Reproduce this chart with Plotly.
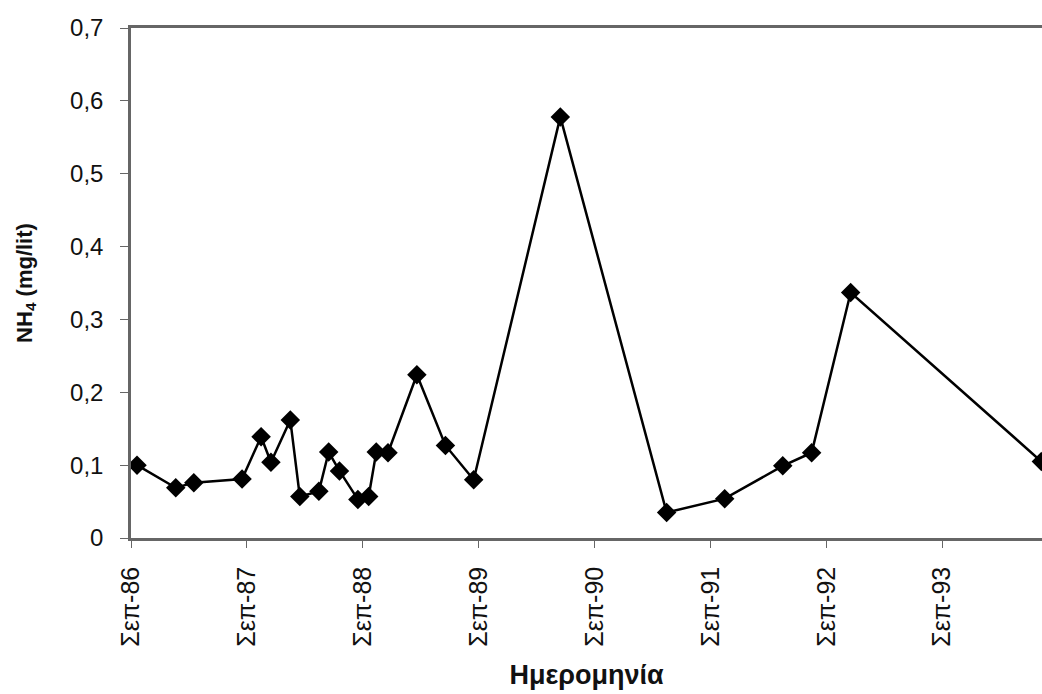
import plotly.graph_objects as go

dates = ["1986-09-20", "1987-01-20", "1987-03-18", "1987-08-17", "1987-10-16",
         "1987-11-16", "1988-01-16", "1988-02-15", "1988-04-15", "1988-05-16",
         "1988-06-19", "1988-08-16", "1988-09-19", "1988-10-13", "1988-11-19",
         "1989-02-18", "1989-05-19", "1989-08-16", "1990-05-16", "1991-04-16",
         "1991-10-16", "1992-04-16", "1992-07-16", "1992-11-16", "1994-07-10"]
nh4 = [0.100, 0.069, 0.076, 0.081, 0.139,
       0.104, 0.162, 0.057, 0.064, 0.118,
       0.092, 0.053, 0.057, 0.118, 0.117,
       0.224, 0.127, 0.080, 0.578, 0.035,
       0.054, 0.099, 0.117, 0.337, 0.105]

tick_vals = ["1986-09-01", "1987-09-01", "1988-09-01", "1989-09-01",
             "1990-09-01", "1991-09-01", "1992-09-01", "1993-09-01"]
tick_text = ["Σεπ-86", "Σεπ-87", "Σεπ-88", "Σεπ-89",
             "Σεπ-90", "Σεπ-91", "Σεπ-92", "Σεπ-93"]
y_ticks = [0, 0.1, 0.2, 0.3, 0.4, 0.5, 0.6, 0.7]
y_tick_text = ["0", "0,1", "0,2", "0,3", "0,4", "0,5", "0,6", "0,7"]

fig = go.Figure()
fig.add_trace(go.Scatter(
    x=dates, y=nh4, mode="lines+markers",
    line=dict(color="black", width=2.5),
    marker=dict(symbol="diamond", size=15, color="black"),
    cliponaxis=True, showlegend=False,
))

font_family = "Liberation Sans, Arial, sans-serif"
fig.update_layout(
    width=1042, height=694,
    margin=dict(l=131, r=0, t=28, b=156),
    paper_bgcolor="white", plot_bgcolor="white",
    separators=",.",
    font=dict(family=font_family, size=24, color="#111"),
    xaxis=dict(
        type="date",
        range=["1986-09-01", "1994-07-12"],
        tickmode="array", tickvals=tick_vals, ticktext=tick_text,
        tickangle=-90, ticks="outside", ticklen=7, tickcolor="#666", tickwidth=1,
        ticklabelstandoff=9,
        showgrid=False, zeroline=False,
        showline=True, linecolor="#666", linewidth=2.5, mirror=True,
        tickfont=dict(size=25, color="#111"),
        title=dict(text="<b>Ημερομηνία</b>", font=dict(size=27, color="#111"), standoff=20),
    ),
    yaxis=dict(
        range=[0, 0.7],
        tickmode="array", tickvals=y_ticks, ticktext=y_tick_text,
        ticks="outside", ticklen=8, tickcolor="#666", tickwidth=1,
        ticklabelstandoff=12,
        showgrid=False, zeroline=False,
        showline=True, linecolor="#666", linewidth=2.5,
        tickfont=dict(size=24, color="#111"),
        title=dict(text="<b>NH<sub>4</sub> (mg/lit)</b>", font=dict(size=22, color="#111"), standoff=32),
    ),
)

fig.write_html("out.html")
